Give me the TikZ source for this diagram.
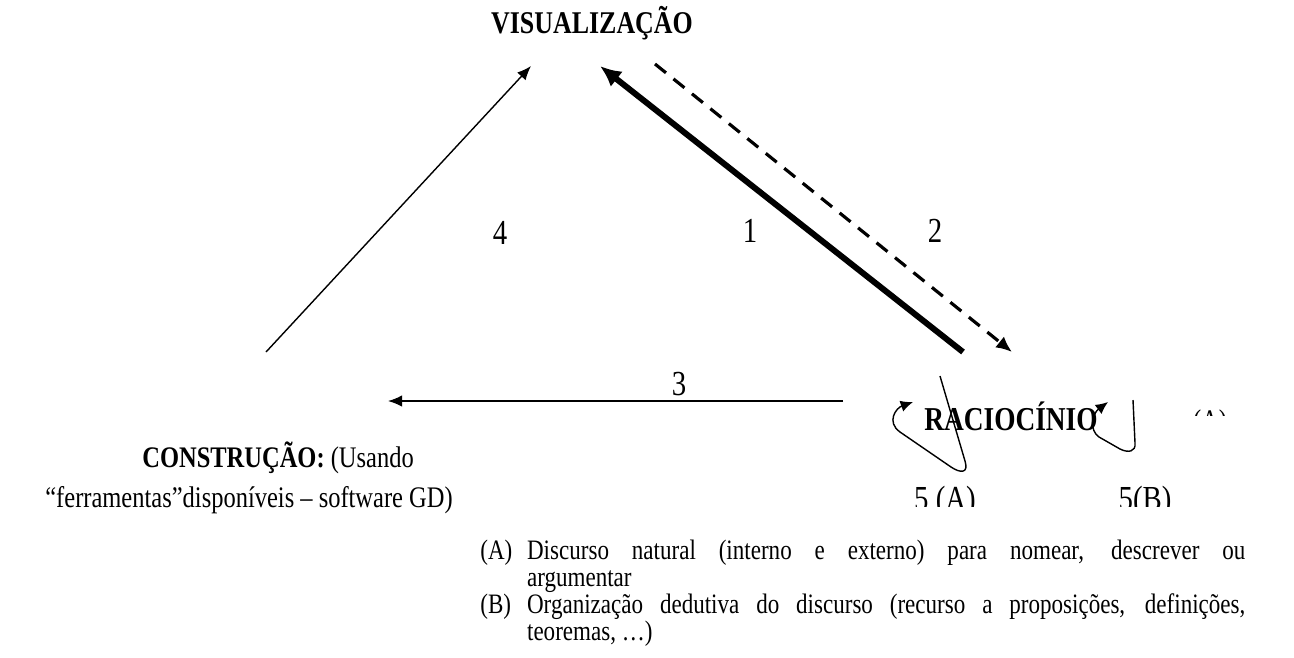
\documentclass[tikz,border=0pt]{standalone}
\usepackage{fontspec}
\setmainfont{Liberation Serif}[FakeStretch=0.82]
\usetikzlibrary{arrows.meta,positioning}

\begin{document}
\begin{tikzpicture}[x=0.02cm,y=-0.02cm,
  txt/.style={inner sep=0pt, font=\fontsize{17}{19}\selectfont},
  title/.style={inner sep=0pt, font=\fontsize{18}{20}\selectfont\bfseries},
  num/.style={inner sep=0pt, font=\fontsize{20}{22}\selectfont},
  thin arrow/.style={line width=0.8pt, -{Latex[length=8pt,width=6.5pt]}},
  thick arrow/.style={line width=3.4pt, -{Latex[length=12pt,width=11pt]}},
  dash arrow/.style={line width=1.8pt, dash pattern=on 8pt off 5.5pt, -{Latex[length=9pt,width=8pt]}},
  loop arrow/.style={line width=0.8pt, -{Latex[length=7pt,width=6.5pt]}}]
\useasboundingbox (0,0) rectangle (1294,657);

% corners of the triangle
\node[title] (vis) at (592,23) {VISUALIZAÇÃO};
\node[title, font=\fontsize{19}{21}\selectfont\bfseries] (rac) at (1011,416) {RACIOCÍNIO};
\node[txt, anchor=west] (cons) at (142,458) {\textbf{CONSTRUÇÃO:} (Usando};
\node[txt, anchor=west] (ferr) at (45,500) {“ferramentas”disponíveis – software GD)};

% free ends of the connectors
\coordinate (c4a) at (266,352);
\coordinate (c4b) at (531,66);
\coordinate (c1a) at (963,352);
\coordinate (c1b) at (600,66);
\coordinate (c2a) at (655,64);
\coordinate (c2b) at (1012,352);
\coordinate (c3a) at (843,401);
\coordinate (c3b) at (388,401);

\draw[thin arrow] (c4a) -- (c4b);
\draw[thick arrow] (c1a) -- (c1b);
\draw[dash arrow] (c2a) -- (c2b);
\draw[thin arrow] (c3a) -- (c3b);

\node[num] (n4) at (500,233) {4};
\node[num] (n1) at (750,231) {1};
\node[num] (n2) at (935,231) {2};
\node[num] (n3) at (679,384) {3};

% loops around RACIOCINIO
\coordinate (la) at (940,376);
\coordinate (lb) at (1133,400);
\draw[loop arrow] (la) -- (965,461) .. controls (969,474) and (960,473) .. (951,467)
  -- (900,432) .. controls (886,422) and (896,408) .. (913,402);
\draw[loop arrow] (lb) -- (1135,443) .. controls (1136,452) and (1128,453) .. (1120,449)
  -- (1099,437) .. controls (1089,430) and (1092,414) .. (1108,402);

% clipped labels
\begin{scope}
  \clip (880,480) rectangle (1200,506);
  \node[num, anchor=base] (l5a) at (945,510) {5 (A)};
  \node[num, anchor=base] (l5b) at (1145,510) {5(B)};
\end{scope}
\begin{scope}
  \clip (1185,406) rectangle (1235,415);
  \node[txt, anchor=north] (lA) at (1210,409) {(A)};
\end{scope}

% legend
\node[txt, font=\fontsize{16}{15.5}\selectfont, anchor=base west, text width=765*0.02cm, align=justify] (leg) at (480,559)
  {\hyphenpenalty=10000 \lineskiplimit=-20pt
   \hangindent=26.6pt\hangafter=1\makebox[26.6pt][l]{(A)}Discurso natural (interno e externo) para nomear, descrever ou\linebreak argumentar\par
   \hangindent=26.6pt\hangafter=1\makebox[26.6pt][l]{(B)}Organização dedutiva do discurso (recurso a proposições, definições,\linebreak teoremas, …)\par};
\end{tikzpicture}
\end{document}
